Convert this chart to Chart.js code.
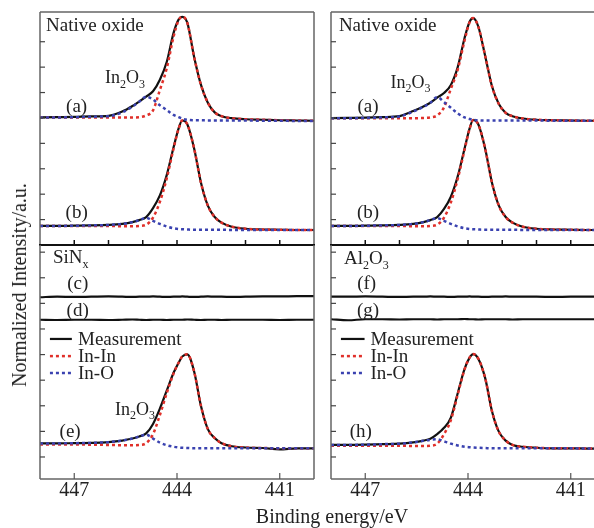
<!DOCTYPE html>
<html><head><meta charset="utf-8">
<script src="https://cdn.jsdelivr.net/npm/chart.js@4"></script>
<style>
html,body{margin:0;padding:0;width:594px;height:528px;overflow:hidden;background:#fff;}
canvas{position:absolute;}
.t{position:absolute;font-family:'Liberation Serif','Times New Roman',serif;color:#222;white-space:nowrap;}
</style></head>
<body>
<canvas id="lt" width="294" height="253" style="left:30px;top:2px;width:294px;height:253px"></canvas>
<canvas id="lb" width="294" height="293" style="left:30px;top:235px;width:294px;height:293px"></canvas>
<canvas id="rt" width="294" height="253" style="left:321px;top:2px;width:294px;height:253px"></canvas>
<canvas id="rb" width="294" height="293" style="left:321px;top:235px;width:294px;height:293px"></canvas>
<div class="t" style="left:19px;top:285px;font-size:20px;line-height:20px;transform:translate(-50%,-50%) rotate(-90deg)">Normalized Intensity/a.u.</div>
<div class="t" style="left:332px;top:516px;font-size:20px;line-height:20px;transform:translate(-50%,-50%)">Binding energy/eV</div>
<script>
const FONT = "'Liberation Serif','Times New Roman',serif";
const SERIES = ['Measurement', 'In-In', 'In-O'];
const X_TICKS_MAJOR = [447, 444, 441];
const X_TICKS_MINOR = [447, 446, 445, 444, 443, 442, 441];
const Y_TICKS_TOP = [1, 2, 3, 4, 5, 6, 7, 8];
const Y_TICKS_LOW = [0.86, 1.86, 2.86, 3.86, 4.86, 5.86, 6.86, 7.86, 8.86];

const ENERGY = [448, 447.5, 447, 446.5, 446, 445.6, 445.3, 445.1, 444.9, 444.7, 444.5, 444.3, 444.1, 443.95, 443.85, 443.7, 443.5, 443.3, 443.1, 442.9, 442.7, 442.4, 442.0, 441.5, 441.0, 440.5, 440.0];

// Left column: native oxide (a), (b)
const measA_L = [5.02,5.03,5.04,5.06,5.08,5.25,5.47,5.65,5.84,6.05,6.5,7.2,8.35,8.88,8.98,8.75,7.4,6.3,5.6,5.22,5.07,4.99,4.95,4.93,4.91,4.9,4.89];
const inInA_L = [5.02,5.02,5.02,5.02,5.02,5.02,5.02,5.03,5.1,5.3,6.1,6.95,8.2,8.85,8.98,8.75,7.4,6.3,5.6,5.22,5.07,4.99,4.95,4.93,4.91,4.9,4.89];
const inOA_L  = [5.02,5.02,5.03,5.05,5.07,5.22,5.45,5.64,5.84,5.72,5.5,5.31,5.12,5.03,4.97,4.93,4.91,4.91,4.9,4.9,4.9,4.9,4.9,4.89,4.89,4.88,4.88];
const measB_L = [0.75,0.75,0.76,0.77,0.79,0.83,0.9,0.98,1.1,1.45,1.95,2.75,3.85,4.6,4.9,4.75,3.8,2.45,1.55,1.1,0.88,0.72,0.64,0.61,0.6,0.59,0.59];
const inInB_L = [0.75,0.75,0.75,0.75,0.75,0.74,0.74,0.75,0.8,1.08,1.7,2.62,3.8,4.58,4.9,4.75,3.8,2.45,1.55,1.1,0.88,0.72,0.64,0.61,0.6,0.59,0.59];
const inOB_L  = [0.75,0.75,0.76,0.77,0.79,0.83,0.9,0.98,1.07,0.95,0.83,0.73,0.66,0.63,0.62,0.61,0.6,0.6,0.6,0.6,0.6,0.59,0.59,0.59,0.59,0.59,0.59];
// Left column: SiNx (c), (d), (e)
const measC = [7.1,7.12,7.11,7.12,7.13,7.12,7.11,7.12,7.12,7.13,7.12,7.11,7.12,7.12,7.13,7.12,7.11,7.12,7.13,7.12,7.12,7.11,7.12,7.13,7.13,7.14,7.14];
const measD = [6.22,6.21,6.22,6.22,6.21,6.22,6.23,6.22,6.21,6.22,6.22,6.21,6.22,6.22,6.22,6.23,6.22,6.21,6.22,6.22,6.21,6.22,6.22,6.22,6.21,6.22,6.22];
const measE = [1.39,1.39,1.4,1.41,1.44,1.5,1.58,1.66,1.78,2.15,2.75,3.45,4.15,4.55,4.78,4.87,4.2,2.85,1.95,1.6,1.4,1.28,1.23,1.21,1.16,1.2,1.2];
const inInE = [1.35,1.35,1.35,1.34,1.33,1.32,1.32,1.33,1.4,1.75,2.5,3.35,4.12,4.55,4.78,4.87,4.2,2.85,1.95,1.6,1.4,1.28,1.23,1.21,1.2,1.2,1.2];
const inOE  = [1.39,1.39,1.4,1.41,1.44,1.5,1.58,1.66,1.73,1.58,1.42,1.32,1.26,1.23,1.22,1.21,1.2,1.2,1.2,1.2,1.2,1.2,1.2,1.2,1.2,1.2,1.2];

// Right column: native oxide (a), (b)
const measA_R = [4.99,5.0,5.01,5.03,5.07,5.27,5.45,5.6,5.8,5.98,6.3,7.0,8.15,8.8,8.93,8.6,7.45,6.25,5.55,5.2,5.07,4.98,4.93,4.91,4.9,4.89,4.89];
const inInA_R = [4.99,4.99,4.99,4.99,4.99,4.99,5.0,5.02,5.1,5.42,6.15,6.9,8.05,8.78,8.93,8.6,7.45,6.25,5.55,5.2,5.07,4.98,4.93,4.91,4.9,4.89,4.89];
const inOA_R  = [4.99,4.99,5.0,5.02,5.06,5.25,5.44,5.6,5.82,5.62,5.4,5.18,5.02,4.96,4.93,4.91,4.9,4.9,4.9,4.9,4.9,4.9,4.9,4.89,4.89,4.89,4.89];
const measB_R = [0.75,0.75,0.76,0.77,0.79,0.83,0.9,0.98,1.1,1.42,1.9,2.7,3.8,4.6,4.92,4.75,3.8,2.45,1.55,1.1,0.88,0.72,0.64,0.61,0.6,0.59,0.59];
const inInB_R = [0.75,0.75,0.75,0.75,0.75,0.74,0.74,0.75,0.8,1.08,1.68,2.6,3.75,4.58,4.92,4.75,3.8,2.45,1.55,1.1,0.88,0.72,0.64,0.61,0.6,0.59,0.59];
const inOB_R  = [0.75,0.75,0.76,0.77,0.79,0.83,0.9,0.98,1.06,0.95,0.83,0.73,0.66,0.63,0.62,0.61,0.6,0.6,0.6,0.6,0.6,0.59,0.59,0.59,0.59,0.59,0.59];
// Right column: Al2O3 (f), (g), (h)
const measF = [7.12,7.12,7.13,7.12,7.11,7.12,7.12,7.13,7.12,7.12,7.11,7.12,7.12,7.13,7.12,7.12,7.11,7.12,7.12,7.13,7.12,7.12,7.12,7.11,7.12,7.12,7.12];
const measG = [6.24,6.2,6.24,6.24,6.23,6.24,6.24,6.24,6.23,6.24,6.24,6.24,6.25,6.24,6.24,6.23,6.24,6.24,6.24,6.24,6.23,6.24,6.24,6.24,6.24,6.24,6.24];
const measH = [1.33,1.33,1.34,1.36,1.38,1.43,1.5,1.57,1.75,2.0,2.4,3.35,4.3,4.75,4.88,4.7,3.95,2.65,1.85,1.5,1.33,1.26,1.22,1.2,1.2,1.19,1.19];
const inInH = [1.3,1.3,1.3,1.3,1.3,1.29,1.29,1.3,1.38,1.75,2.3,3.3,4.28,4.75,4.88,4.7,3.95,2.65,1.85,1.5,1.33,1.26,1.22,1.2,1.2,1.19,1.19];
const inOH  = [1.33,1.33,1.34,1.36,1.38,1.43,1.49,1.53,1.55,1.47,1.38,1.31,1.26,1.24,1.23,1.22,1.21,1.2,1.2,1.2,1.2,1.2,1.2,1.2,1.2,1.19,1.19];

const STYLE = [
  {color:'#111111', width:2.2, dash:[], order:3},
  {color:'#e0302a', width:2.5, dash:[3,3], order:2},
  {color:'#3a42b0', width:2.5, dash:[3,3], order:1}
];
function ds(values, k){
  const s = STYLE[k];
  return {label:SERIES[k], data:values.map((v,i)=>({x:ENERGY[i], y:v})),
    borderColor:s.color, borderWidth:s.width, borderDash:s.dash, pointRadius:0,
    cubicInterpolationMode:'monotone', fill:false, order:s.order, borderCapStyle:'butt'};
}

function richText(ctx, str, x, y, size, align){
  const parts=[];
  for(let i=0;i<str.length;i++){
    if(str[i]==='_'){parts.push({t:str[i+1],sub:true});i++;}
    else if(parts.length && !parts[parts.length-1].sub) parts[parts.length-1].t+=str[i];
    else parts.push({t:str[i],sub:false});
  }
  const sub = Math.round(size*0.65);
  let w=0;
  parts.forEach(p=>{ctx.font=(p.sub?sub:size)+'px '+FONT; p.w=ctx.measureText(p.t).width; w+=p.w;});
  let cx = align==='center'? x-w/2 : x;
  ctx.textAlign='left'; ctx.textBaseline='alphabetic';
  parts.forEach(p=>{ctx.font=(p.sub?sub:size)+'px '+FONT; ctx.fillText(p.t, cx, p.sub? y+size*0.25 : y); cx+=p.w;});
}

function makeFrame(cfg){
  return {
    id:'frame'+Math.random().toString(36).slice(2),
    afterDraw(chart){
      const {ctx, chartArea:a, scales:{x,y}} = chart;
      ctx.save();
      ctx.lineCap='butt';
      ctx.strokeStyle='#666'; ctx.lineWidth=1.5;
      ctx.beginPath();
      ctx.moveTo(a.left, a.top); ctx.lineTo(a.left, a.bottom);
      ctx.moveTo(a.right, a.top); ctx.lineTo(a.right, a.bottom);
      if(!cfg.lower){ ctx.moveTo(a.left, a.top); ctx.lineTo(a.right, a.top); }
      else { ctx.moveTo(a.left, a.bottom); ctx.lineTo(a.right, a.bottom); }
      ctx.stroke();
      ctx.strokeStyle='#444'; ctx.lineWidth=1.2;
      cfg.yTicks.forEach(v=>{const p=y.getPixelForValue(v); ctx.beginPath(); ctx.moveTo(a.left,p); ctx.lineTo(a.left+5,p); ctx.stroke();});
      if(!cfg.lower){
        ctx.strokeStyle='#111'; ctx.lineWidth=2;
        ctx.beginPath(); ctx.moveTo(a.left-1,a.bottom); ctx.lineTo(a.right+1,a.bottom); ctx.stroke();
        ctx.lineWidth=1.5;
        X_TICKS_MINOR.forEach(v=>{const p=x.getPixelForValue(v); ctx.beginPath(); ctx.moveTo(p,a.bottom); ctx.lineTo(p,a.bottom-5); ctx.stroke();});
      } else {
        ctx.strokeStyle='#555'; ctx.lineWidth=1.2;
        X_TICKS_MAJOR.forEach(v=>{const p=x.getPixelForValue(v); ctx.beginPath(); ctx.moveTo(p,a.bottom); ctx.lineTo(p,a.bottom-6); ctx.stroke();});
      }
      ctx.fillStyle='#222';
      cfg.labels.forEach(l=>{
        richText(ctx, l.text, x.getPixelForValue(l.x), y.getPixelForValue(l.y), l.size||19, l.align||'left');
      });
      if(cfg.legend){
        const L=cfg.legend;
        SERIES.forEach((name,k)=>{
          const s=STYLE[k];
          const py=y.getPixelForValue(L.rows[k]);
          ctx.strokeStyle=s.color; ctx.lineWidth=s.width; ctx.setLineDash(s.dash);
          ctx.beginPath(); ctx.moveTo(x.getPixelForValue(L.x0),py); ctx.lineTo(x.getPixelForValue(L.x1),py); ctx.stroke();
          ctx.setLineDash([]);
          ctx.fillStyle='#222'; ctx.font='19px '+FONT; ctx.textAlign='left'; ctx.textBaseline='middle';
          ctx.fillText(name, x.getPixelForValue(L.tx), py+1);
        });
      }
      ctx.restore();
    }
  };
}

function panel(id, datasets, cfg){
  new Chart(document.getElementById(id), {
    type:'line',
    data:{datasets},
    options:{
      responsive:false, animation:false, devicePixelRatio:1,
      layout:{padding:{left:10,right:10,top:10,bottom:cfg.lower?0:10}},
      plugins:{legend:{display:false}, tooltip:{enabled:false}},
      scales:{
        x:{type:'linear', reverse:true, min:440, max:448, display:!!cfg.lower,
           grid:{display:false, drawTicks:false}, border:{display:false},
           afterBuildTicks:s=>{s.ticks=X_TICKS_MAJOR.map(v=>({value:v}));},
           afterFit:s=>{ if(cfg.lower) s.height=49; },
           ticks:{font:{family:FONT,size:20}, color:'#222', padding:0, maxRotation:0, autoSkip:false}},
        y:{min:0, max:cfg.ymax, display:false}
      }
    },
    plugins:[makeFrame(cfg)]
  });
}

panel('lt', [ds(measA_L,0),ds(inInA_L,1),ds(inOA_L,2),ds(measB_L,0),ds(inInB_L,1),ds(inOB_L,2)], {
  ymax:9.17, yTicks:Y_TICKS_TOP,
  labels:[{text:'Native oxide',x:447.825,y:8.44},{text:'In_2O_3',x:446.1,y:6.37,size:18},
          {text:'(a)',x:446.93,y:5.24,align:'center'},{text:'(b)',x:446.93,y:1.06,align:'center'}]
});
panel('lb', [ds(measC,0),ds(measD,0),ds(measE,0),ds(inInE,1),ds(inOE,2)], {
  lower:true, ymax:9.14, yTicks:Y_TICKS_LOW,
  labels:[{text:'SiN_x',x:447.62,y:8.43},{text:'(c)',x:446.9,y:7.42,align:'center'},
          {text:'(d)',x:446.9,y:6.38,align:'center'},{text:'In_2O_3',x:445.81,y:2.5,size:18},
          {text:'(e)',x:447.12,y:1.66,align:'center'}],
  legend:{x0:447.71,x1:447.07,tx:446.89,rows:[5.47,4.8,4.14]}
});
panel('rt', [ds(measA_R,0),ds(inInA_R,1),ds(inOA_R,2),ds(measB_R,0),ds(inInB_R,1),ds(inOB_R,2)], {
  ymax:9.17, yTicks:Y_TICKS_TOP,
  labels:[{text:'Native oxide',x:447.77,y:8.44},{text:'In_2O_3',x:446.26,y:6.18,size:18},
          {text:'(a)',x:446.92,y:5.24,align:'center'},{text:'(b)',x:446.92,y:1.06,align:'center'}]
});
panel('rb', [ds(measF,0),ds(measG,0),ds(measH,0),ds(inInH,1),ds(inOH,2)], {
  lower:true, ymax:9.14, yTicks:Y_TICKS_LOW,
  labels:[{text:'Al_2O_3',x:447.62,y:8.39},{text:'(f)',x:446.96,y:7.42,align:'center'},
          {text:'(g)',x:446.92,y:6.38,align:'center'},{text:'(h)',x:447.13,y:1.66,align:'center'}],
  legend:{x0:447.71,x1:447.02,tx:446.85,rows:[5.47,4.8,4.14]}
});
</script>
</body></html>
